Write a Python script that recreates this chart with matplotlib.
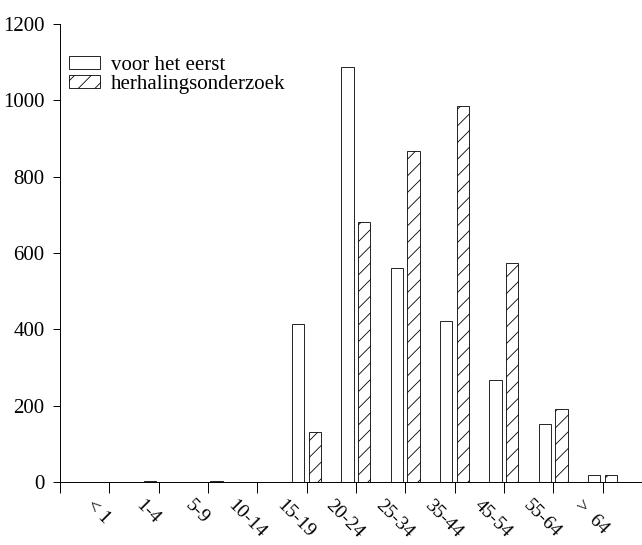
import matplotlib
matplotlib.use('Agg')
import matplotlib.pyplot as plt
import matplotlib.transforms as mtransforms
import numpy as np

# age groups and counts
groups = ['< 1', '1-4', '5-9', '10-14', '15-19', '20-24',
          '25-34', '35-44', '45-54', '55-64', '>  64']
eerst = [0, 2, 1, 1, 415, 1088, 560, 421, 268, 151, 19]
herhaling = [0, 1, 2, 1, 130, 680, 868, 984, 575, 190, 19]

plt.rcParams['font.family'] = ['Liberation Serif', 'DejaVu Serif']
plt.rcParams['hatch.linewidth'] = 0.6

fig = plt.figure(figsize=(6.42, 5.45), dpi=100)
ax = fig.add_axes([60 / 642, 1 - 482 / 545, 582 / 642, 458 / 545])

x = np.arange(len(groups))
w = 0.25
off = 0.17
ax.bar(x - off, eerst, width=w, facecolor='white', edgecolor='black',
       linewidth=0.6, label='voor het eerst')
ax.bar(x + off, herhaling, width=w, facecolor='white', edgecolor='black',
       linewidth=0.6, hatch='//', label='herhalingsonderzoek')

ax.set_xlim(-1, 10.8)
ax.set_ylim(0, 1200)
ax.set_yticks(np.arange(0, 1201, 200))
ax.set_xticks(np.concatenate([[-1], x]))
ax.tick_params(axis='y', direction='out', length=5, width=0.7,
               labelsize=15, pad=6)
ax.tick_params(axis='x', direction='out', length=8, width=0.7, pad=3)
ax.set_xticklabels([''] + groups, rotation=-45, ha='center', va='top',
                   fontsize=14)
# nudge the slanted labels left like the original
shift = mtransforms.ScaledTranslation(-11 / 100, 0, fig.dpi_scale_trans)
for lab in ax.get_xticklabels():
    lab.set_transform(lab.get_transform() + shift)

for s in ['top', 'right']:
    ax.spines[s].set_visible(False)
for s in ['left', 'bottom']:
    ax.spines[s].set_linewidth(0.7)

ax.legend(loc='upper left', bbox_to_anchor=(-0.009, 0.963), frameon=False,
          fontsize=15, handlelength=1.45, handleheight=0.6,
          labelspacing=0.0, handletextpad=0.55, borderaxespad=0.3)

fig.savefig('out.png', dpi=100)
